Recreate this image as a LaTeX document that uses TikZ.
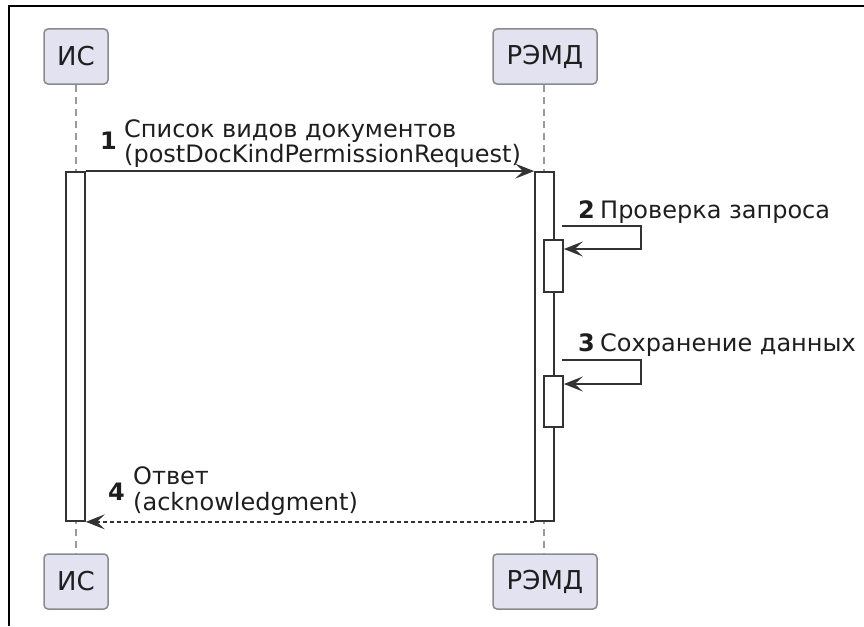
\documentclass[tikz,border=0pt]{standalone}
\usepackage{fontspec}
\setmainfont{DejaVu Sans}
\usetikzlibrary{arrows.meta,calc}
\definecolor{partfill}{HTML}{E2E2F0}
\definecolor{partdraw}{HTML}{8A8A8A}
\definecolor{txt}{HTML}{1E1E1E}
\definecolor{lline}{HTML}{9A9A9A}
\definecolor{actdraw}{HTML}{333333}
\tikzset{
  partbox/.style={draw=partdraw,fill=partfill,rounded corners=4pt,line width=1.5pt,
    minimum height=55pt,inner sep=0pt,text=txt,font=\fontsize{26}{28}\selectfont},
  lifeline/.style={draw=lline,line width=1.3pt,dash pattern=on 7pt off 5pt},
  actbox/.style={draw=actdraw,fill=white,line width=1.7pt,minimum width=19pt,inner sep=0pt},
  msg/.style={draw=actdraw,line width=1.7pt,-{Stealth[length=19pt,width=15pt,inset=8pt]}},
  retmsg/.style={msg,dash pattern=on 4pt off 3pt},
  lbl/.style={anchor=base west,inner sep=0pt,text=txt,font=\fontsize{24}{25}\selectfont},
  num/.style={anchor=base west,inner sep=0pt,text=txt,font=\fontsize{24}{25}\selectfont\bfseries},
}
\begin{document}
\begin{tikzpicture}[x=1pt,y=-1pt]
\useasboundingbox (0,0) rectangle (864,626);
% frame
\draw[line width=2.5pt,black] (9,626) -- (9,6) -- (864,6);
% participants
\node[partbox,minimum width=64pt] (isH) at (76,56.5) {ИС};
\node[partbox,minimum width=104pt] (remdH) at (545,56.5) {РЭМД};
\node[partbox,minimum width=64pt] (isT) at (76,581.5) {ИС};
\node[partbox,minimum width=104pt] (remdT) at (545,581.5) {РЭМД};
% lifelines
\draw[lifeline] (isH.south -| 76,0) -- (isT.north -| 76,0);
\draw[lifeline] (remdH.south -| 544,0) -- (remdT.north -| 544,0);
% activations
\node[actbox,minimum height=349pt] (actIS) at (75.5,346.5) {};
\node[actbox,minimum height=349pt] (actR) at (544.5,346.5) {};
\node[actbox,minimum height=52pt] (act2) at (553.5,266) {};
\node[actbox,minimum height=51pt] (act3) at (553.5,401.5) {};
% message 1
\draw[msg] (actIS.north east) -- (actR.north west);
\node[num] (n1) at (100,149) {1};
\node[lbl] (m1a) at (124,137) {Список видов документов};
\node[lbl] (m1b) at (124,162) {(postDocKindPermissionRequest)};
% message 2
\coordinate (s2a) at (562,226);
\coordinate (s2b) at (641,249);
\draw[msg] (s2a) -| (s2b) -- (act2.east |- s2b);
\node[num] (n2) at (578,218) {2};
\node[lbl] (m2) at (600,218) {Проверка запроса};
% message 3
\coordinate (s3a) at (562,360);
\coordinate (s3b) at (641,384);
\draw[msg] (s3a) -| (s3b) -- (act3.east |- s3b);
\node[num] (n3) at (578,351) {3};
\node[lbl] (m3) at (600,351) {Сохранение данных};
% message 4
\draw[retmsg] (actR.south west) -- (actIS.south east);
\node[num] (n4) at (108,500) {4};
\node[lbl] (m4a) at (133,484) {Ответ};
\node[lbl] (m4b) at (133,510) {(acknowledgment)};
\end{tikzpicture}
\end{document}
